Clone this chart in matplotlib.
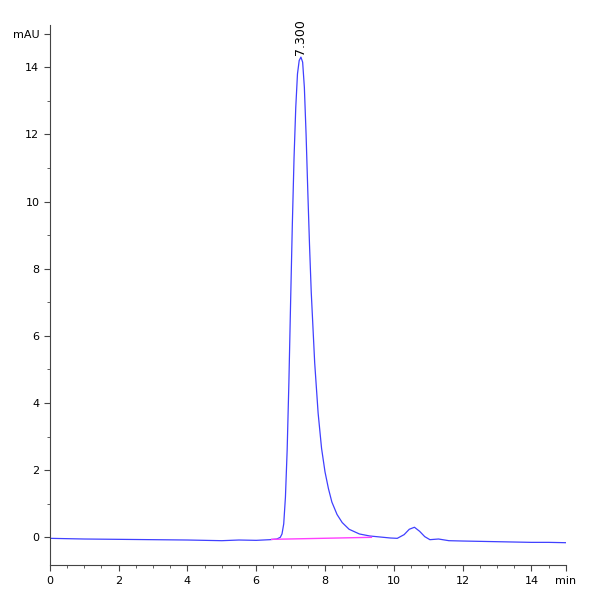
import matplotlib
matplotlib.use("Agg")
import matplotlib.pyplot as plt
from matplotlib.ticker import MultipleLocator

time = [0, 1, 2, 3, 4, 5, 5.5, 6, 6.4, 6.6, 6.7, 6.75, 6.8, 6.85, 6.9, 6.95, 7.0, 7.05, 7.1, 7.15, 7.2, 7.25, 7.3,
        7.35, 7.4, 7.45, 7.5, 7.55, 7.6, 7.7, 7.8, 7.9, 8.0, 8.1, 8.2, 8.35, 8.5, 8.7, 9.0, 9.3, 9.6, 9.9,
        10.1, 10.3, 10.45, 10.6, 10.75, 10.9, 11.05, 11.3, 11.6, 12, 12.5, 13, 13.5, 14, 14.5, 15]
signal = [-0.03, -0.05, -0.06, -0.07, -0.08, -0.1, -0.08, -0.09, -0.07, -0.05, 0.0, 0.1, 0.4, 1.2, 2.6, 4.6, 7.0, 9.3, 11.3,
          12.8, 13.8, 14.2, 14.3, 14.15, 13.4, 12.0, 10.3, 8.7, 7.3, 5.2, 3.7, 2.65, 1.95, 1.45, 1.05, 0.68, 0.44, 0.24, 0.1, 0.04, 0.01, -0.02,
          -0.03, 0.08, 0.24, 0.3, 0.18, 0.02, -0.07, -0.05, -0.1, -0.11, -0.12, -0.13, -0.14, -0.15, -0.15, -0.16]
base_t = [6.45, 9.35]
base_y = [-0.06, 0.0]
peak_label = "7.300"
peak_t, peak_y = 7.3, 14.3

fig = plt.figure(figsize=(6, 6), dpi=100)
ax = fig.add_axes([0.083, 0.058, 0.86, 0.9])
ax.plot(time, signal, color="#4040ff", lw=0.9)
ax.plot(base_t, base_y, color="#ff40ff", lw=1.0)
ax.text(peak_t, peak_y + 0.05, peak_label, rotation=90, ha="center", va="bottom", fontsize=9)
ax.set_xlim(0, 15)
ax.set_ylim(-0.83, 15.25)
ax.set_xticks([0, 2, 4, 6, 8, 10, 12, 14, 15])
ax.set_xticklabels(["0", "2", "4", "6", "8", "10", "12", "14", "min"])
ax.set_yticks([0, 2, 4, 6, 8, 10, 12, 14, 15])
ax.set_yticklabels(["0", "2", "4", "6", "8", "10", "12", "14", "mAU"])
ax.xaxis.set_minor_locator(MultipleLocator(0.5))
ax.yaxis.set_minor_locator(MultipleLocator(1))
ax.tick_params(direction="out", labelsize=8, color="#444444", length=4)
ax.tick_params(which="minor", direction="out", length=2.5, color="#444444")
for s in ["top", "right"]:
    ax.spines[s].set_visible(False)
for s in ["left", "bottom"]:
    ax.spines[s].set_color("#444444")
fig.savefig("out.png", dpi=100)
